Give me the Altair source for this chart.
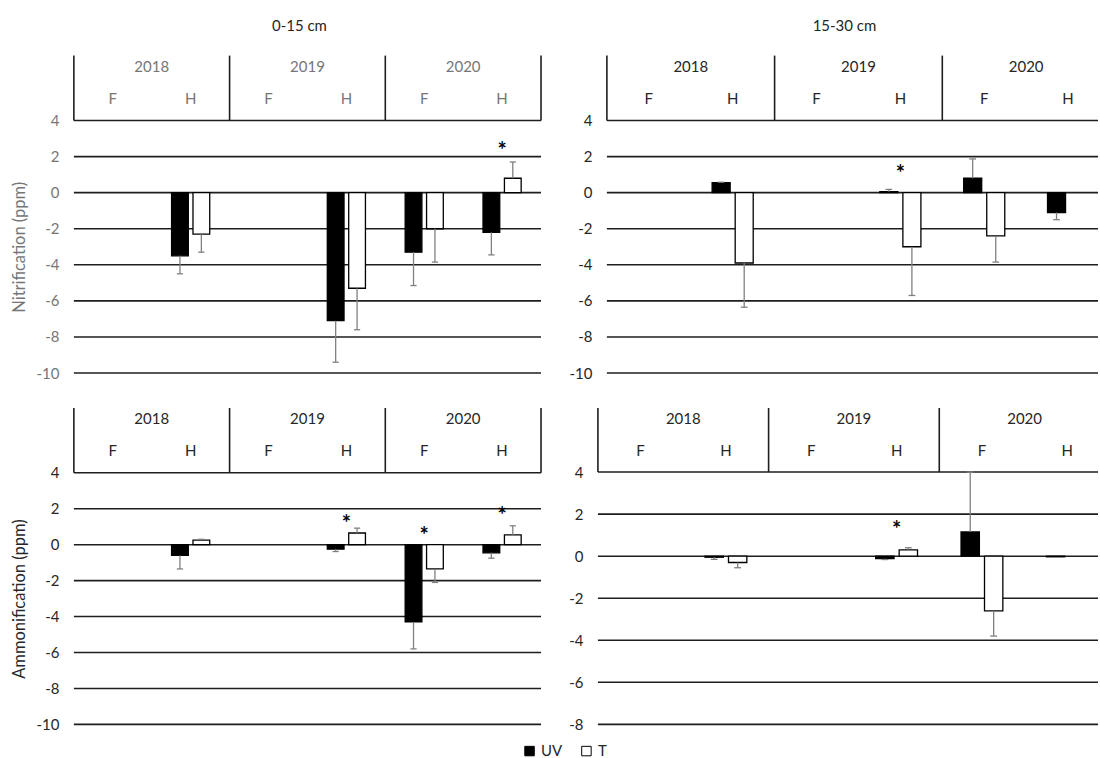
import altair as alt
import pandas as pd

# ---------------- data ----------------
YEARS = ["2018", "2019", "2020"]
SEASONS = ["F", "H"]
SERIES = ["UV", "T"]
CATEGORIES = [f"{y} {s}" for y in YEARS for s in SEASONS]

# Nitrification (ppm), 0-15 cm
nit_015_uv = [None, -3.5, None, -7.1, -3.3, -2.2]
nit_015_uv_err = [None, 1.0, None, 2.3, 1.85, 1.25]
nit_015_t = [None, -2.3, None, -5.3, -2.0, 0.8]
nit_015_t_err = [None, 1.0, None, 2.3, 1.85, 0.9]
nit_015_star_cat = ["2020 H"]
nit_015_star_y = [2.6]

# Nitrification (ppm), 15-30 cm
nit_1530_uv = [None, 0.55, None, 0.05, 0.8, -1.1]
nit_1530_uv_err = [None, 0.03, None, 0.13, 1.07, 0.4]
nit_1530_t = [None, -3.9, None, -3.0, -2.4, None]
nit_1530_t_err = [None, 2.45, None, 2.7, 1.45, None]
nit_1530_star_cat = ["2019 H"]
nit_1530_star_y = [1.3]

# Ammonification (ppm), 0-15 cm
amm_015_uv = [None, -0.6, None, -0.25, -4.3, -0.45]
amm_015_uv_err = [None, 0.75, None, 0.13, 1.5, 0.3]
amm_015_t = [None, 0.25, None, 0.65, -1.35, 0.55]
amm_015_t_err = [None, 0.05, None, 0.27, 0.75, 0.5]
amm_015_star_cat = ["2019 H", "2020 F", "2020 H"]
amm_015_star_y = [1.44, 0.76, 1.86]

# Ammonification (ppm), 15-30 cm
amm_1530_uv = [None, -0.05, None, -0.12, 1.15, -0.03]
amm_1530_uv_err = [None, 0.1, None, 0.04, 2.85, 0.0]
amm_1530_t = [None, -0.3, None, 0.3, -2.6, None]
amm_1530_t_err = [None, 0.25, None, 0.1, 1.2, None]
amm_1530_star_cat = ["2019 H"]
amm_1530_star_y = [1.46]

TICKS_10 = [-10, -8, -6, -4, -2, 0, 2, 4]
TICKS_8 = [-8, -6, -4, -2, 0, 2, 4]

# ---------------- styling ----------------
FONT = "Lato"
FS = 15
DARK = "#262626"
GRAY = "#767676"
LINE = "#1e1e1e"
ERR = "#808080"


def panel(uv, uv_err, t, t_err, star_cat, star_y, ticks, ymax, width, height,
          xmax, ytitle, tcolor, title):
    rows = []
    for i, cat in enumerate(CATEGORIES):
        for s, vals, errs in (("UV", uv, uv_err), ("T", t, t_err)):
            v = vals[i]
            if v is None:
                continue
            rows.append({"cat": cat, "idx": i, "series": s, "value": v,
                         "err": errs[i] or 0.0})
    bars_df = pd.DataFrame(rows)

    xscale = alt.Scale(domain=[0, xmax], nice=False, zero=False)
    yscale = alt.Scale(domain=[ticks[0], ymax], nice=False, zero=False)

    axis_kw = dict(values=ticks, grid=False, domain=False, ticks=False,
                   labelPadding=15, labelFontSize=FS, labelFont=FONT,
                   labelColor=tcolor, labelExpr="'' + datum.value")
    if ytitle:
        # centre the title on the value range (4 .. bottom tick), not the header
        span = ymax - ticks[0]
        title_y = height * ((ymax - 4) + (4 - ticks[0]) / 2) / span
        yaxis = alt.Axis(title=ytitle, titleColor=tcolor, titleFont=FONT,
                         titleFontSize=16.5, titleFontWeight="normal",
                         titlePadding=8, titleY=title_y, **axis_kw)
    else:
        yaxis = alt.Axis(title=None, **axis_kw)

    def Y(field):
        return alt.Y(field, scale=yscale, axis=yaxis)

    def X(field):
        return alt.X(field, scale=xscale, axis=None)

    legend = alt.Legend(title=None, orient="none", legendX=449, legendY=689,
                        direction="horizontal", symbolType="square",
                        symbolSize=90, symbolStrokeColor="#000000",
                        symbolStrokeWidth=1, labelFont=FONT, labelFontSize=FS,
                        labelColor=DARK, columnPadding=16, labelOffset=4)

    grid_df = pd.DataFrame({"tick": ticks})
    grid = alt.Chart(grid_df).transform_calculate(
        gx0="0", gx1=f"{xmax}").mark_rule(
        color=LINE, strokeWidth=1.6).encode(
        y=Y("tick:Q"), x=X("gx0:Q"), x2="gx1:Q")

    hdr = alt.Chart(pd.DataFrame({"b": [0, 2, 4, 6]})).transform_filter(
        f"datum.b <= {xmax}").transform_calculate(
        top=f"{ymax}", bot="4").mark_rule(
        color=LINE, strokeWidth=1.6).encode(
        x=X("b:Q"), y=Y("top:Q"), y2="bot:Q")

    base = alt.Chart(bars_df).transform_calculate(
        xa="datum.idx + 0.5 + (datum.series == 'UV' ? -0.245 : 0.03)",
        zero="0",
    ).transform_calculate(
        xb="datum.xa + 0.215",
        xc="datum.xa + 0.1075",
        end="datum.value + (datum.value >= 0 ? datum.err : -datum.err)",
    ).transform_calculate(
        cl="datum.xc - 0.04",
        cr="datum.xc + 0.04",
    )

    bars = base.mark_bar(stroke="#000000", strokeWidth=1.3).encode(
        x=X("xa:Q"), x2="xb:Q", y=Y("value:Q"), y2="zero:Q",
        fill=alt.Fill("series:N",
                      scale=alt.Scale(domain=SERIES,
                                      range=["#000000", "#ffffff"]),
                      legend=legend))

    errs = base.transform_filter("datum.err > 0").mark_rule(
        color=ERR, strokeWidth=1.3).encode(
        x=X("xc:Q"), y=Y("value:Q"), y2="end:Q")

    caps = base.transform_filter("datum.err > 0").mark_rule(
        color=ERR, strokeWidth=1.3).encode(
        x=X("cl:Q"), x2="cr:Q", y=Y("end:Q"))

    years_df = pd.DataFrame({"year": YEARS,
                             "pos": [2 * i + 1 for i in range(len(YEARS))]})
    years_txt = alt.Chart(years_df).mark_text(
        font=FONT, fontSize=FS, color=tcolor, baseline="middle").encode(
        x=X("pos:Q"), y=alt.value(11), text="year:N")

    seas_df = pd.DataFrame({"season": [s for _ in YEARS for s in SEASONS],
                            "pos": [i + 0.5 for i in range(len(CATEGORIES))]})
    seas_txt = alt.Chart(seas_df).mark_text(
        font=FONT, fontSize=FS, color=tcolor, baseline="middle").encode(
        x=X("pos:Q"), y=alt.value(43), text="season:N")

    star_df = pd.DataFrame({"pos": [CATEGORIES.index(c) + 0.5 for c in star_cat],
                            "sy": star_y, "mark": ["*"] * len(star_cat)})
    stars = alt.Chart(star_df).mark_text(
        font=FONT, fontSize=22, fontWeight="bold", color="#000000",
        baseline="alphabetic", dy=12).encode(
        x=X("pos:Q"), y=Y("sy:Q"), text="mark:N")

    layer = alt.layer(grid, hdr, bars, errs, caps, years_txt, seas_txt, stars)
    props = dict(width=width, height=height)
    if title:
        props["title"] = alt.TitleParams(title, font=FONT, fontSize=FS,
                                         fontWeight="normal", color=DARK,
                                         anchor="middle", frame="group",
                                         offset=21, dx=-8)
    return layer.properties(**props)


tl = panel(nit_015_uv, nit_015_uv_err, nit_015_t, nit_015_t_err,
           nit_015_star_cat, nit_015_star_y, TICKS_10, 7.6, 468, 318, 6,
           "Nitrification (ppm)", GRAY, "0-15 cm")
tr = panel(nit_1530_uv, nit_1530_uv_err, nit_1530_t, nit_1530_t_err,
           nit_1530_star_cat, nit_1530_star_y, TICKS_10, 7.6, 492, 318, 5.857,
           None, DARK, "15-30 cm")
bl = panel(amm_015_uv, amm_015_uv_err, amm_015_t, amm_015_t_err,
           amm_015_star_cat, amm_015_star_y, TICKS_10, 7.61, 468, 317, 6,
           "Ammonification (ppm)", DARK, None)
br = panel(amm_1530_uv, amm_1530_uv_err, amm_1530_t, amm_1530_t_err,
           amm_1530_star_cat, amm_1530_star_y, TICKS_8, 7.05, 501, 317, 5.86,
           None, DARK, None)

row1 = alt.hconcat(tl, tr, spacing=66, bounds="flush")
row2 = alt.hconcat(bl, br, spacing=57, bounds="flush")

chart = alt.vconcat(row1, row2, spacing=24).properties(
    padding={"left": 11, "top": 17, "right": 0, "bottom": 0},
    background="#ffffff",
).configure_view(stroke="transparent")

chart.save("out.html", embed_options={"renderer": "svg", "actions": False})
